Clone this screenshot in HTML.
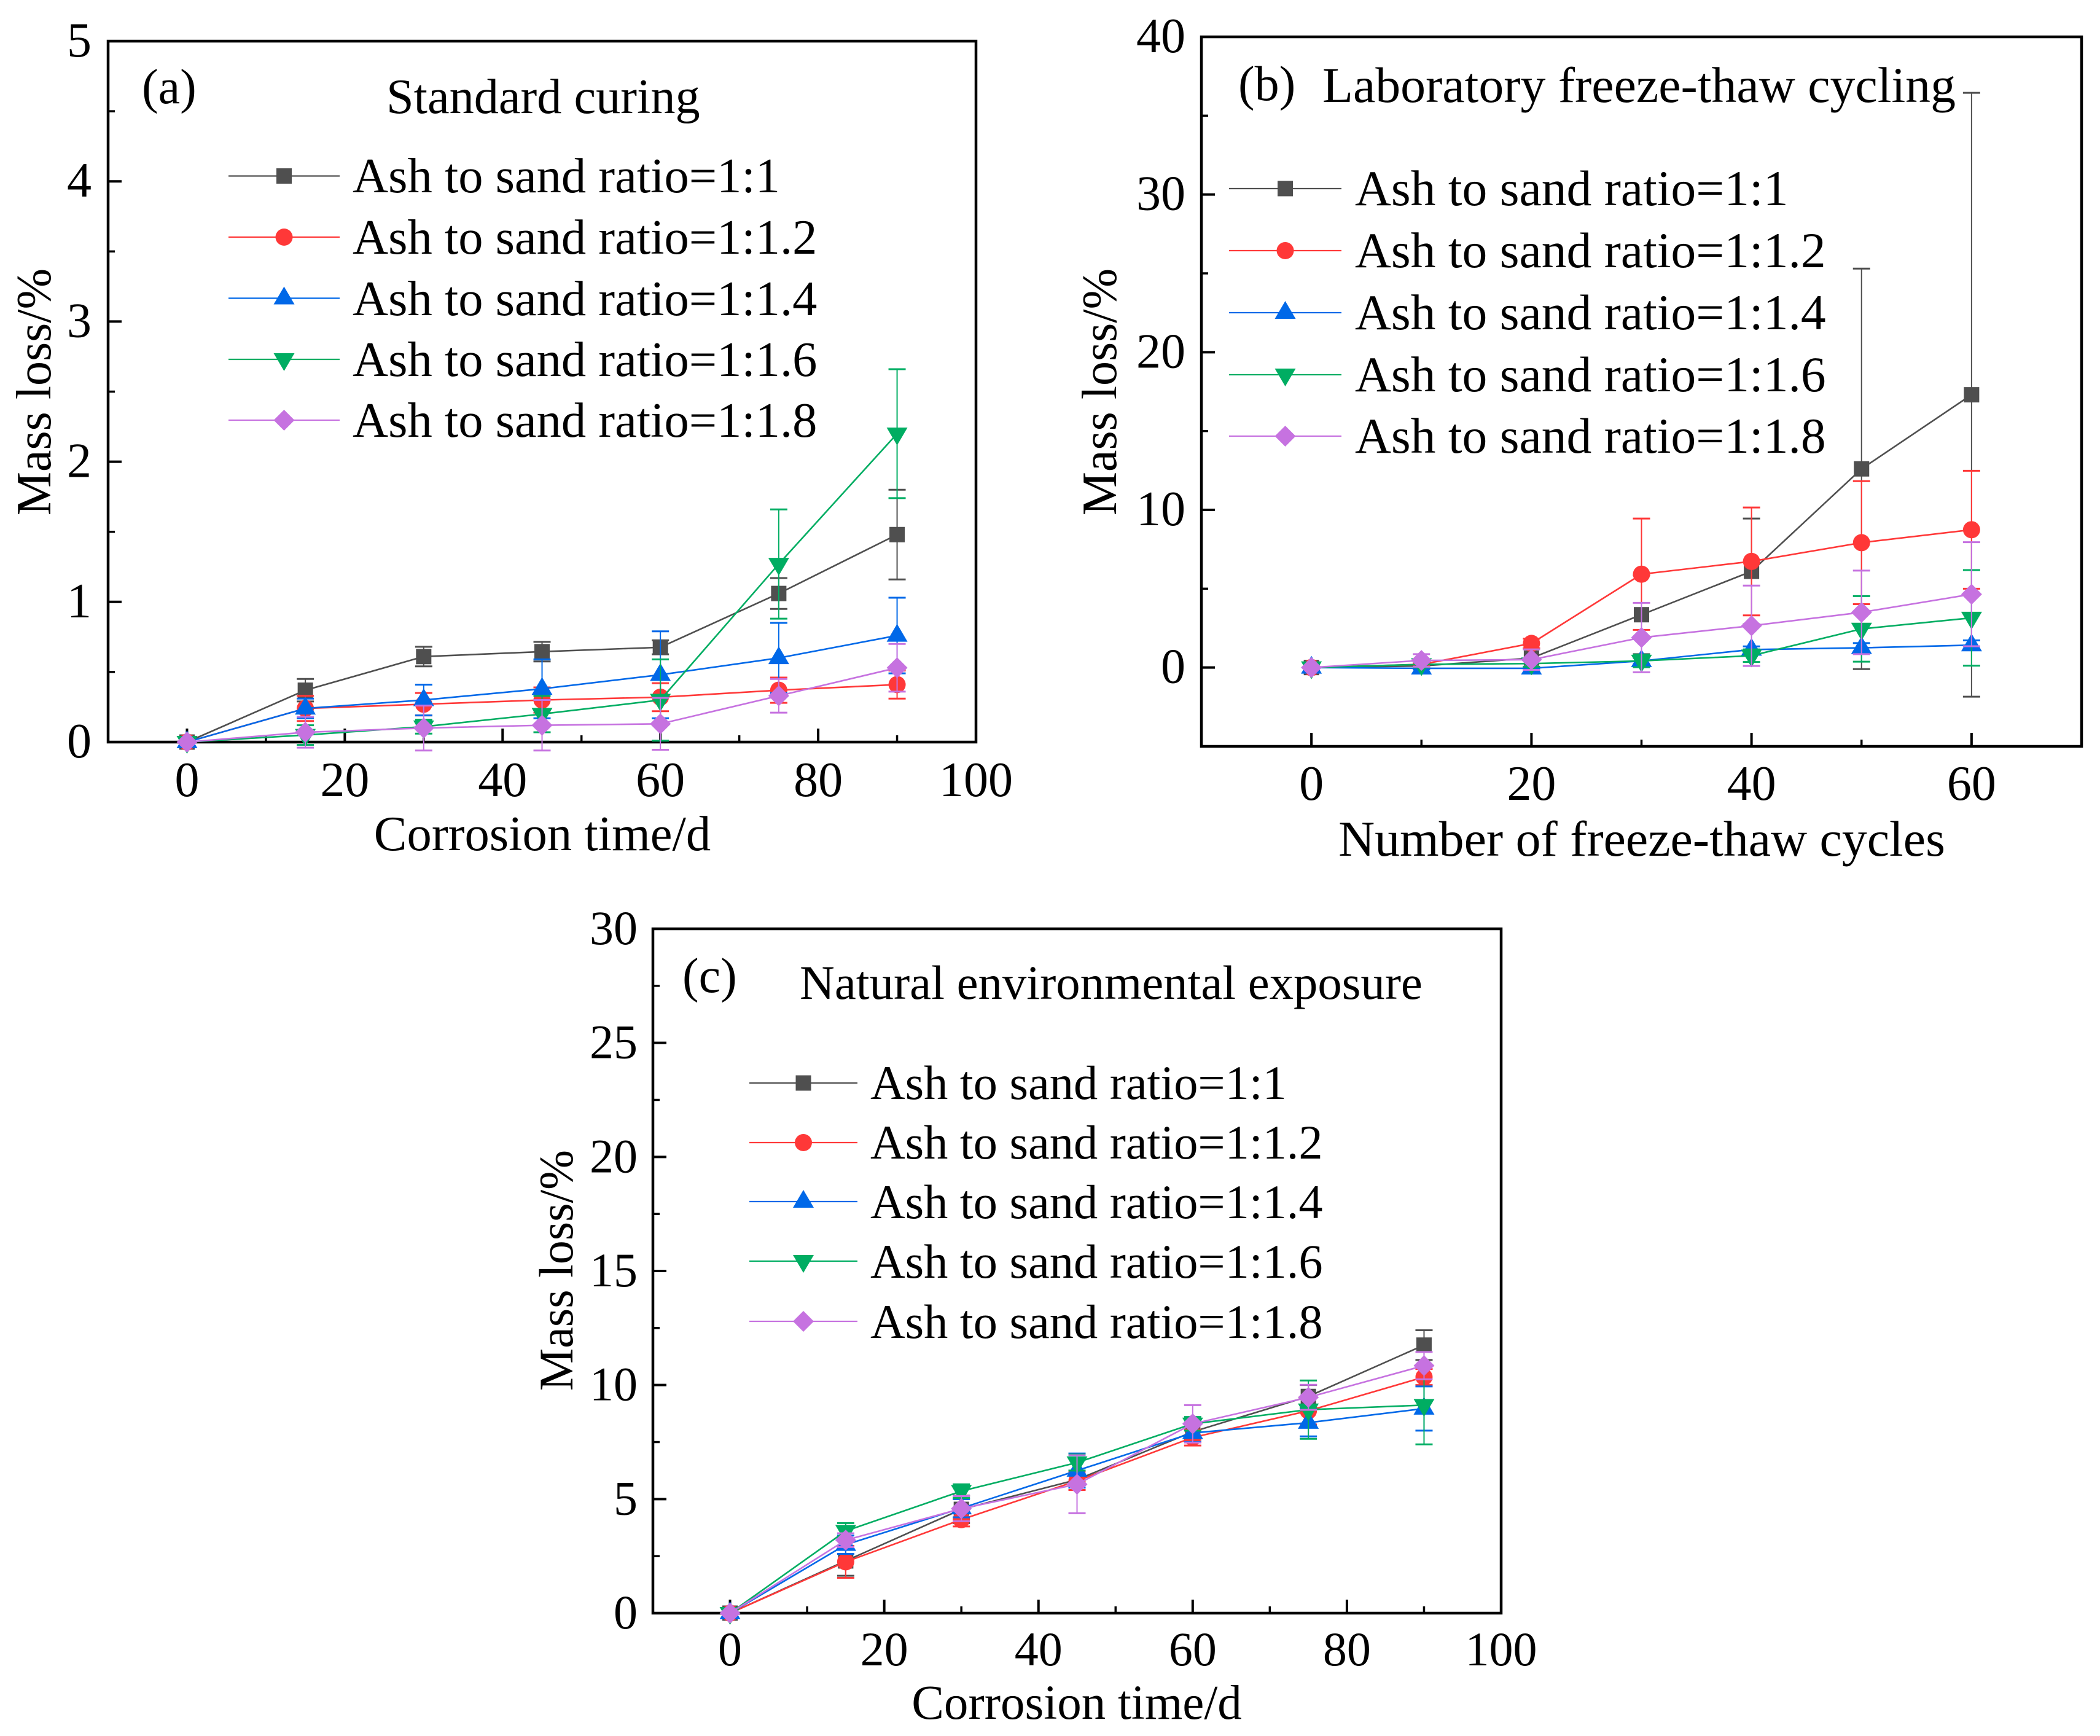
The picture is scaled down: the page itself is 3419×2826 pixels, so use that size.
<!DOCTYPE html>
<html lang="en">
<head>
<meta charset="utf-8">
<title>Mass loss charts</title>
<style>
html,body{margin:0;padding:0;background:#fff;}
svg{display:block;}
text{font-family:"Liberation Serif",serif;fill:#000;}
</style>
</head>
<body>
<svg id="figure" xmlns="http://www.w3.org/2000/svg" width="3419" height="2826" viewBox="0 0 3419 2826">
  <rect x="0" y="0" width="3419" height="2826" fill="#ffffff"/>

  <g id="panel-a">
    <text x="231" y="168" font-size="80">(a)</text>
    <text x="629" y="184" font-size="80.3">Standard curing</text>
    <text x="883" y="1384" font-size="80.6" text-anchor="middle">Corrosion time/d</text>
    <text transform="translate(82 638) rotate(-90)" font-size="80" text-anchor="middle">Mass loss/%</text>
    <text x="574" y="313" font-size="80.5">Ash to sand ratio=1:1</text>
    <text x="574" y="413" font-size="80.5">Ash to sand ratio=1:1.2</text>
    <text x="574" y="513" font-size="80.5">Ash to sand ratio=1:1.4</text>
    <text x="574" y="612" font-size="80.5">Ash to sand ratio=1:1.6</text>
    <text x="574" y="711" font-size="80.5">Ash to sand ratio=1:1.8</text>
  </g>

  <g id="panel-b">
    <text x="2016" y="163" font-size="80">(b)</text>
    <text x="2153" y="166" font-size="81.8">Laboratory freeze-thaw cycling</text>
    <text x="2673" y="1393" font-size="81.8" text-anchor="middle">Number of freeze-thaw cycles</text>
    <text transform="translate(1817 638) rotate(-90)" font-size="80" text-anchor="middle">Mass loss/%</text>
    <text x="2206" y="334" font-size="81.6">Ash to sand ratio=1:1</text>
    <text x="2206" y="435" font-size="81.6">Ash to sand ratio=1:1.2</text>
    <text x="2206" y="536" font-size="81.6">Ash to sand ratio=1:1.4</text>
    <text x="2206" y="637" font-size="81.6">Ash to sand ratio=1:1.6</text>
    <text x="2206" y="737" font-size="81.6">Ash to sand ratio=1:1.8</text>
  </g>

  <g id="panel-c">
    <text x="1111" y="1615" font-size="80">(c)</text>
    <text x="1302" y="1626" font-size="78.7">Natural environmental exposure</text>
    <text x="1753" y="2798" font-size="79" text-anchor="middle">Corrosion time/d</text>
    <text transform="translate(932 2068) rotate(-90)" font-size="78" text-anchor="middle">Mass loss/%</text>
    <text x="1417" y="1789" font-size="78.4">Ash to sand ratio=1:1</text>
    <text x="1417" y="1886" font-size="78.4">Ash to sand ratio=1:1.2</text>
    <text x="1417" y="1983" font-size="78.4">Ash to sand ratio=1:1.4</text>
    <text x="1417" y="2080" font-size="78.4">Ash to sand ratio=1:1.6</text>
    <text x="1417" y="2178" font-size="78.4">Ash to sand ratio=1:1.8</text>
  </g>
</svg>

<script>
// ---------- Panel (a) data: Standard curing ----------
var aCategories = [0, 15, 30, 45, 60, 75, 90];
var aXTicks = [0, 20, 40, 60, 80, 100];
var aXMinor = [10, 30, 50, 70, 90];
var aYTicks = [0, 1, 2, 3, 4, 5];
var aYMinor = [0.5, 1.5, 2.5, 3.5, 4.5];
var aValues10 = [0, 0.37, 0.61, 0.645, 0.676, 1.06, 1.48];
var aErrors10 = [0, 0.08, 0.07, 0.07, 0.05, 0.11, 0.32];
var aValues12 = [0, 0.24, 0.27, 0.30, 0.32, 0.37, 0.41];
var aErrors12 = [0, 0.09, 0.08, 0.09, 0.10, 0.09, 0.10];
var aValues14 = [0, 0.24, 0.30, 0.38, 0.48, 0.60, 0.76];
var aErrors14 = [0, 0.07, 0.11, 0.21, 0.31, 0.25, 0.27];
var aValues16 = [0, 0.05, 0.11, 0.20, 0.30, 1.27, 2.20];
var aErrors16 = [0, 0.07, 0.05, 0.13, 0.29, 0.39, 0.46];
var aValues18 = [0, 0.07, 0.10, 0.12, 0.13, 0.33, 0.53];
var aErrors18 = [0, 0.11, 0.16, 0.18, 0.185, 0.12, 0.17];

// ---------- Panel (b) data: Laboratory freeze-thaw cycling ----------
var bCategories = [0, 10, 20, 30, 40, 50, 60];
var bXTicks = [0, 20, 40, 60];
var bXMinor = [10, 30, 50];
var bYTicks = [0, 10, 20, 30, 40];
var bYMinor = [5, 15, 25, 35];
var bValues10 = [0, 0.1, 0.6, 3.35, 6.1, 12.6, 17.3];
var bErrors10 = [0, 0.2, 0.6, 2.5, 3.35, 12.7, 19.15];
var bValues12 = [0, 0.2, 1.53, 5.92, 6.73, 7.92, 8.74];
var bErrors12 = [0, 0.2, 0.3, 3.53, 3.42, 3.9, 3.74];
var bValues14 = [0, -0.05, -0.05, 0.42, 1.14, 1.25, 1.42];
var bErrors14 = [0, 0.05, 0.05, 0.2, 0.2, 0.3, 0.3];
var bValues16 = [0, 0.2, 0.25, 0.42, 0.75, 2.45, 3.15];
var bErrors16 = [0, 0.2, 0.2, 0.4, 0.4, 2.08, 3.03];
var bValues18 = [0, 0.45, 0.5, 1.9, 2.65, 3.5, 4.65];
var bErrors18 = [0, 0.4, 0.65, 2.2, 2.55, 2.65, 3.3];

// ---------- Panel (c) data: Natural environmental exposure ----------
var cCategories = [0, 15, 30, 45, 60, 75, 90];
var cXTicks = [0, 20, 40, 60, 80, 100];
var cXMinor = [10, 30, 50, 70, 90];
var cYTicks = [0, 5, 10, 15, 20, 25, 30];
var cYMinor = [2.5, 7.5, 12.5, 17.5, 22.5, 27.5];
var cValues10 = [0, 2.29, 4.55, 5.85, 7.95, 9.5, 11.75];
var cErrors10 = [0, 0.65, 0.6, 0.25, 0.35, 0.5, 0.65];
var cValues12 = [0, 2.25, 4.1, 5.8, 7.7, 8.87, 10.35];
var cErrors12 = [0, 0.7, 0.3, 0.4, 0.35, 0.6, 0.35];
var cValues14 = [0, 3.0, 4.6, 6.25, 7.9, 8.35, 8.97];
var cErrors14 = [0, 0.4, 0.4, 0.75, 0.4, 0.6, 0.97];
var cValues16 = [0, 3.6, 5.35, 6.6, 8.3, 8.92, 9.12];
var cErrors16 = [0, 0.35, 0.3, 0.35, 0.3, 1.28, 1.72];
var cValues18 = [0, 3.2, 4.58, 5.65, 8.3, 9.46, 10.85];
var cErrors18 = [0, 0.3, 0.55, 1.27, 0.82, 0.55, 0.6];

// ---------- Series styling ----------
var seriesKeys = ['ratio-1-1', 'ratio-1-1.2', 'ratio-1-1.4', 'ratio-1-1.6', 'ratio-1-1.8'];
var seriesColors = ['#4f4f4f', '#ff3838', '#0068e8', '#00ad62', '#c672e0'];
var seriesShapes = ['square', 'circle', 'up', 'down', 'diamond'];

var SVG_NS = 'http://www.w3.org/2000/svg';
var figure = document.getElementById('figure');

function createSvg(tag, attrs, parent) {
  var el = document.createElementNS(SVG_NS, tag);
  for (var k in attrs) { el.setAttribute(k, attrs[k]); }
  parent.appendChild(el);
  return el;
}

function drawMarker(parent, shape, cx, cy, color, name) {
  var el;
  if (shape === 'square') {
    el = createSvg('rect', {x: cx - 12.5, y: cy - 12.5, width: 25, height: 25, fill: color}, parent);
  } else if (shape === 'circle') {
    el = createSvg('circle', {cx: cx, cy: cy, r: 14, fill: color}, parent);
  } else if (shape === 'up') {
    el = createSvg('polygon', {points: (cx - 17) + ',' + (cy + 10) + ' ' + (cx + 17) + ',' + (cy + 10) + ' ' + cx + ',' + (cy - 19), fill: color}, parent);
  } else if (shape === 'down') {
    el = createSvg('polygon', {points: (cx - 17) + ',' + (cy - 10) + ' ' + (cx + 17) + ',' + (cy - 10) + ' ' + cx + ',' + (cy + 19), fill: color}, parent);
  } else {
    el = createSvg('polygon', {points: (cx - 17) + ',' + cy + ' ' + cx + ',' + (cy - 17) + ' ' + (cx + 17) + ',' + cy + ' ' + cx + ',' + (cy + 17), fill: color}, parent);
  }
  
  
  return el;
}

function drawPanel(p) {
  var root = document.getElementById(p.id);
  var tag = p.id.replace('panel-', '');
  var plotW = p.right - p.left, plotH = p.bottom - p.top;
  function xScale(v) { return p.left + (v - p.xMin) / (p.xMax - p.xMin) * plotW; }
  function yScale(v) { return p.bottom - (v - p.yMin) / (p.yMax - p.yMin) * plotH; }

  // Frame
  var frame = createSvg('rect', {x: p.left, y: p.top, width: plotW, height: plotH, fill: 'none', stroke: '#000', 'stroke-width': 4.5}, root);
  
  

  // X ticks (inward)
  p.xTicks.forEach(function (v) {
    var x = xScale(v);
    var t = createSvg('line', {x1: x, x2: x, y1: p.bottom, y2: p.bottom - 22, stroke: '#000', 'stroke-width': 4}, root);
    
    
    var lbl = createSvg('text', {x: x, y: p.xLabelY, 'font-size': p.tickFont, 'text-anchor': 'middle'}, root);
    lbl.textContent = String(v);
    
    
  });
  p.xMinor.forEach(function (v) {
    var x = xScale(v);
    var t = createSvg('line', {x1: x, x2: x, y1: p.bottom, y2: p.bottom - 11, stroke: '#000', 'stroke-width': 3.5}, root);
    
    
  });

  // Y ticks (inward)
  p.yTicks.forEach(function (v) {
    var y = yScale(v);
    var t = createSvg('line', {x1: p.left, x2: p.left + 22, y1: y, y2: y, stroke: '#000', 'stroke-width': 4}, root);
    
    
    var lbl = createSvg('text', {x: p.yLabelX, y: y + 25, 'font-size': p.tickFont, 'text-anchor': 'end'}, root);
    lbl.textContent = String(v);
    
    
  });
  p.yMinor.forEach(function (v) {
    var y = yScale(v);
    var t = createSvg('line', {x1: p.left, x2: p.left + 11, y1: y, y2: y, stroke: '#000', 'stroke-width': 3.5}, root);
    
    
  });

  // Series: error bars, connecting line, markers (drawn above the ticks and frame)
  p.series.forEach(function (s, si) {
    var color = seriesColors[si];
    var group = createSvg('g', {}, root);
    
    

    p.categories.forEach(function (c, i) {
      var e = s.errors[i];
      if (!e) { return; }
      var x = xScale(c), hi = yScale(s.values[i] + e), lo = yScale(s.values[i] - e);
      var bar = createSvg('path', {
        d: 'M' + x + ' ' + lo + 'V' + hi,
        stroke: color, 'stroke-width': 2, fill: 'none'
      }, group);
      
      
      var caps = createSvg('path', {
        d: 'M' + (x - 14) + ' ' + lo + 'H' + (x + 14) + 'M' + (x - 14) + ' ' + hi + 'H' + (x + 14),
        stroke: color, 'stroke-width': 3, fill: 'none'
      }, group);
      
      
    });

    var pts = p.categories.map(function (c, i) { return xScale(c) + ',' + yScale(s.values[i]); }).join(' ');
    var line = createSvg('polyline', {points: pts, fill: 'none', stroke: color, 'stroke-width': 2.6}, group);
    
    

    p.categories.forEach(function (c, i) {
      drawMarker(group, seriesShapes[si], xScale(c), yScale(s.values[i]), color, 'data-point');
    });
  });

  // Legend swatches
  p.legendY.forEach(function (y, si) {
    var color = seriesColors[si];
    var swatch = createSvg('g', {}, root);
    
    
    createSvg('line', {x1: p.legendX1, x2: p.legendX2, y1: y, y2: y, stroke: color, 'stroke-width': 2.2}, swatch);
    drawMarker(swatch, seriesShapes[si], (p.legendX1 + p.legendX2) / 2, y, color, 'legend-marker');
  });
}

drawPanel({
  id: 'panel-a', left: 176, right: 1589, top: 67, bottom: 1208,
  xMin: -10, xMax: 100, yMin: 0, yMax: 5,
  categories: aCategories, xTicks: aXTicks, xMinor: aXMinor, yTicks: aYTicks, yMinor: aYMinor,
  series: [
    {values: aValues10, errors: aErrors10}, {values: aValues12, errors: aErrors12},
    {values: aValues14, errors: aErrors14}, {values: aValues16, errors: aErrors16},
    {values: aValues18, errors: aErrors18}
  ],
  tickFont: 80, xLabelY: 1296, yLabelX: 149,
  legendY: [286.5, 386, 485.5, 585, 684], legendX1: 372, legendX2: 553
});

drawPanel({
  id: 'panel-b', left: 1956, right: 3389, top: 60, bottom: 1215,
  xMin: -10, xMax: 70, yMin: -5, yMax: 40,
  categories: bCategories, xTicks: bXTicks, xMinor: bXMinor, yTicks: bYTicks, yMinor: bYMinor,
  series: [
    {values: bValues10, errors: bErrors10}, {values: bValues12, errors: bErrors12},
    {values: bValues14, errors: bErrors14}, {values: bValues16, errors: bErrors16},
    {values: bValues18, errors: bErrors18}
  ],
  tickFont: 80, xLabelY: 1302, yLabelX: 1930,
  legendY: [307, 408, 509, 610, 710], legendX1: 2001, legendX2: 2184
});

drawPanel({
  id: 'panel-c', left: 1063, right: 2444, top: 1512, bottom: 2626,
  xMin: -10, xMax: 100, yMin: 0, yMax: 30,
  categories: cCategories, xTicks: cXTicks, xMinor: cXMinor, yTicks: cYTicks, yMinor: cYMinor,
  series: [
    {values: cValues10, errors: cErrors10}, {values: cValues12, errors: cErrors12},
    {values: cValues14, errors: cErrors14}, {values: cValues16, errors: cErrors16},
    {values: cValues18, errors: cErrors18}
  ],
  tickFont: 78, xLabelY: 2711, yLabelX: 1038,
  legendY: [1763, 1860, 1956, 2053, 2151], legendX1: 1220, legendX2: 1396
});
</script>
</body>
</html>
